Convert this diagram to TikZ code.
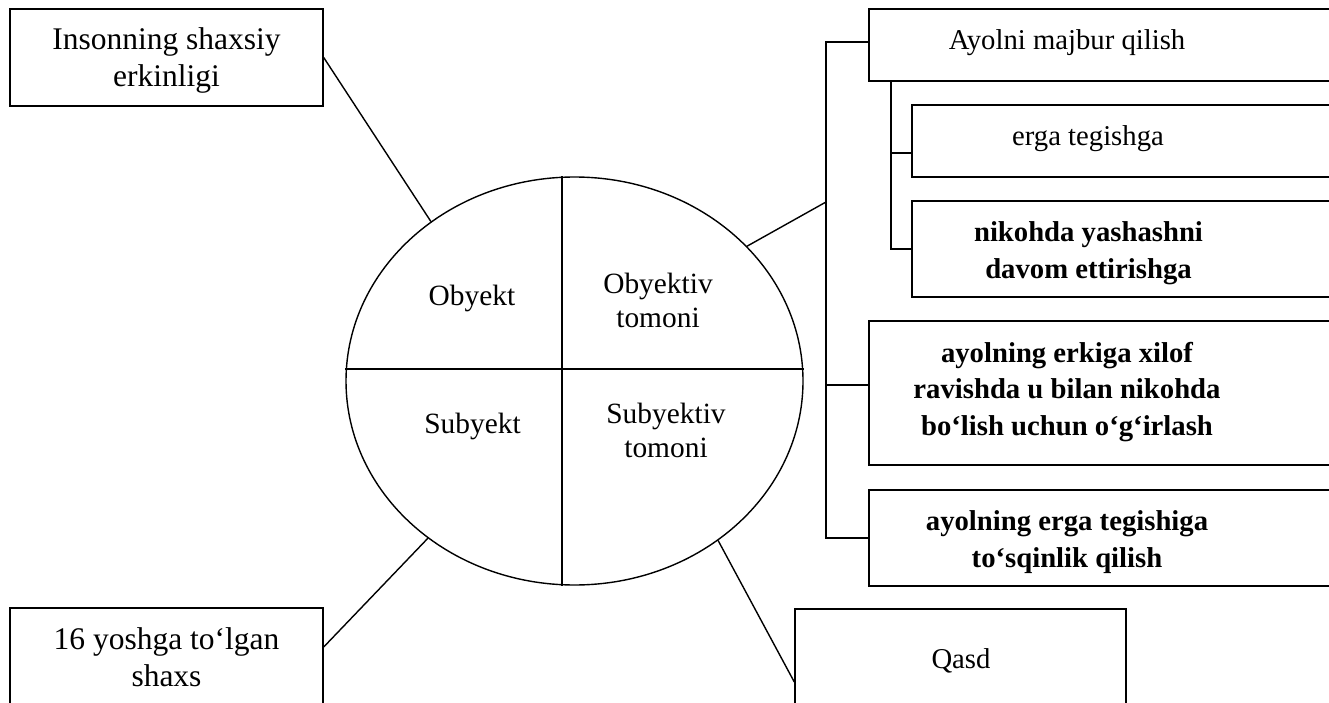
\documentclass[tikz,border=0pt]{standalone}
\usepackage{fontspec}
\setmainfont{Liberation Serif}
\usetikzlibrary{shapes.geometric,calc}
\begin{document}
\begin{tikzpicture}[x=1pt,y=-1pt,line width=1.4pt,
  box/.style={draw,rectangle,inner sep=0pt},
  bigtxt/.style={anchor=base,align=center,inner sep=0pt,font=\fontsize{31.5pt}{37pt}\selectfont},
  rtxt/.style={anchor=base,align=center,inner sep=0pt,font=\fontsize{28.7pt}{36.5pt}\selectfont},
  btxt/.style={rtxt,font=\fontsize{28.7pt}{36.5pt}\selectfont\bfseries},
  etxt/.style={anchor=base,align=center,inner sep=0pt,font=\fontsize{29.4pt}{34pt}\selectfont}]
\clip (0,0) rectangle (1329,703);
% boxes
\node[box,minimum width=313pt,minimum height=97pt] (tl) at (166.5,57.5) {};
\node[box,minimum width=313pt,minimum height=102pt] (bl) at (166.5,659) {};
\node[box,minimum width=331pt,minimum height=101pt] (Q) at (960.5,659.5) {};
\node[box,minimum width=471pt,minimum height=72pt] (A) at (1104.5,45) {};
\node[box,minimum width=428pt,minimum height=72pt] (B1) at (1126,141) {};
\node[box,minimum width=428pt,minimum height=96pt] (B2) at (1126,249) {};
\node[box,minimum width=471pt,minimum height=144pt] (C) at (1104.5,393) {};
\node[box,minimum width=471pt,minimum height=96pt] (D) at (1104.5,538) {};
% ellipse
\node[draw,ellipse,minimum width=457pt,minimum height=408pt,inner sep=0pt] (E) at (574.5,381) {};
\draw ([xshift=-12.5pt]E.north) -- ([xshift=-12.5pt]E.south);
\draw ([yshift=12pt]E.west) -- ([yshift=12pt]E.east);
% texts (multi-line nodes: base = last line)
\node[bigtxt] (ttl) at (166.5,86.5) {Insonning shaxsiy\\erkinligi};
\node[bigtxt] (tbl) at (166.5,686) {16 yoshga to‘lgan\\shaxs};
\node[rtxt] (tQ) at (961,668) {Qasd};
\node[rtxt] (tA) at (1067,50) {Ayolni majbur qilish};
\node[rtxt] (tB1) at (1088,146) {erga tegishga};
\node[btxt] (tB2) at (1088.5,278) {nikohda yashashni\\davom ettirishga};
\node[btxt] (tC) at (1067,435) {ayolning erkiga xilof\\ravishda u bilan nikohda\\bo‘lish uchun o‘g‘irlash};
\node[btxt] (tD) at (1067,567) {ayolning erga tegishiga\\to‘sqinlik qilish};
\node[etxt] (e1) at (472,305) {Obyekt};
\node[etxt] (e2) at (658,327) {Obyektiv\\tomoni};
\node[etxt] (e3) at (472.5,433) {Subyekt};
\node[etxt] (e4) at (666,457) {Subyektiv\\tomoni};
% connectors
\draw (tl.east) -- (E.132.8);
\draw ([yshift=12pt]bl.east) -- (E.227.2);
\draw (E.312.5) -- ([yshift=-22.5pt]Q.west);
\coordinate (tr) at (826,202);
\coordinate (st) at (891,0);
\draw (E.38) -- (tr);
\draw ([yshift=3pt]A.west) -| (D.west -| tr) -- (D.west);
\coordinate (cC) at ($(C.west)+(0,-8)$);
\draw (cC -| tr) -- (cC);
\draw (A.south -| st) -- (B2.west -| st) -- (B2.west);
\coordinate (cB1) at ($(B1.west)+(0,12)$);
\draw (cB1 -| st) -- (cB1);
\end{tikzpicture}
\end{document}
